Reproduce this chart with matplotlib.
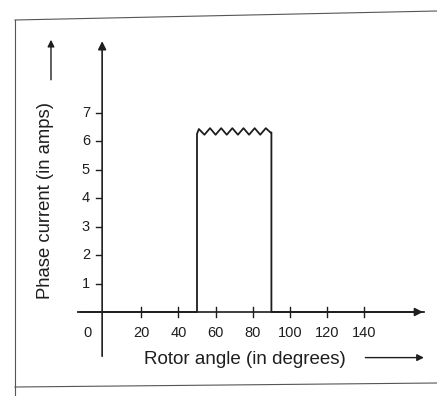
import matplotlib.pyplot as plt
from matplotlib.lines import Line2D

plt.rcParams['font.family'] = ['Liberation Sans', 'DejaVu Sans']

# Phase current pulse (rotor angle in degrees, current in amps)
pulse_angle = [-14, 50, 50, 51, 54, 57, 60, 63, 66, 69, 72, 75, 78, 81, 84, 87, 89.5, 90, 90, 172]
pulse_current = [0, 0, 6.25, 6.42, 6.22, 6.45, 6.22, 6.45, 6.22, 6.45, 6.22, 6.45, 6.22, 6.45, 6.22, 6.45, 6.3, 6.3, 0, 0]

x_ticks = [20, 40, 60, 80, 100, 120, 140]
y_ticks = [1, 2, 3, 4, 5, 6, 7]

ink = '#1e1e1e'

fig = plt.figure(figsize=(4.37, 3.96), dpi=100)
ax = fig.add_axes([0, 0, 1, 1])
ax.axis('off')
# pixel mapping: angle = (px - 104) / 1.86, current = (312 - py) / 28.5
ax.set_xlim(-104 / 1.86, (437 - 104) / 1.86)
ax.set_ylim((312 - 396) / 28.5, 312 / 28.5)

# Axes with arrows
ax.annotate('', xy=(173, 0), xytext=(-14, 0),
            arrowprops=dict(arrowstyle='-|>', color=ink, lw=1.2, mutation_scale=12))
ax.annotate('', xy=(-1, 9.6), xytext=(-1, -1.65),
            arrowprops=dict(arrowstyle='-|>', color=ink, lw=1.2, mutation_scale=12))

# Pulse
ax.plot(pulse_angle, pulse_current, color=ink, lw=1.3)

# Ticks and labels
for t in x_ticks:
    ax.plot([t, t], [-0.17, 0.17], color=ink, lw=1.0)
    ax.text(t, -0.72, str(t), ha='center', va='center', fontsize=10.5, color=ink)
ax.text(-9, -0.72, '0', ha='center', va='center', fontsize=10.5, color=ink)
for t in y_ticks:
    ax.plot([-4.5, -1.5], [t, t], color=ink, lw=1.0)
    ax.text(-7.5, t, str(t), ha='right', va='center', fontsize=10.5, color=ink)

# Axis titles
ax.text(-31.5, 3.9, 'Phase current (in amps)', rotation=90, ha='center', va='center',
        fontsize=13.3, color=ink)
ax.annotate('', xy=(-28.5, 9.65), xytext=(-28.5, 8.05),
            arrowprops=dict(arrowstyle='-|>', color=ink, lw=1.0, mutation_scale=10))
ax.text(21.5, -1.68, 'Rotor angle (in degrees)', ha='left', va='center',
        fontsize=13.5, color=ink)
ax.annotate('', xy=(173.5, -1.6), xytext=(139, -1.6),
            arrowprops=dict(arrowstyle='-|>', color=ink, lw=1.0, mutation_scale=10))

# Scanned page frame
W, H = 437, 396
frame = '#555555'
fig.add_artist(Line2D([15 / W, 15 / W], [0, 1 - 20 / H], color=frame, lw=0.8))
fig.add_artist(Line2D([15 / W, 1], [1 - 20 / H, 1 - 11 / H], color=frame, lw=0.8))
fig.add_artist(Line2D([15 / W, 1], [1 - 387 / H, 1 - 383 / H], color=frame, lw=0.8))

fig.savefig('out.png', dpi=100)
